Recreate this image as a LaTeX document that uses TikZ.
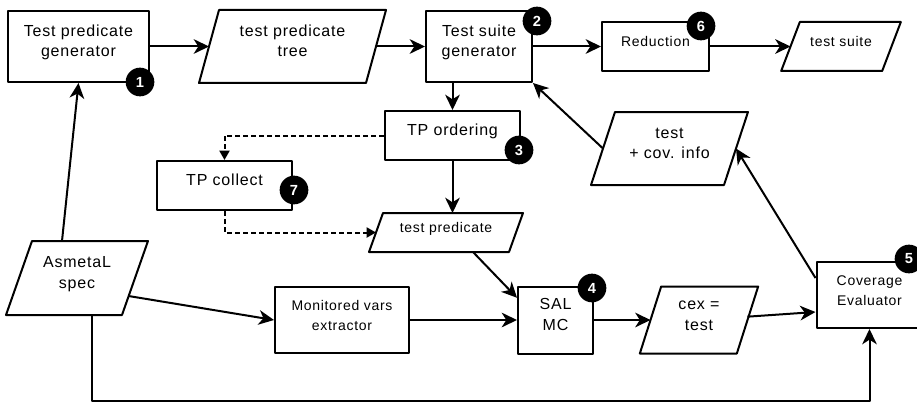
\documentclass[tikz,border=0pt]{standalone}
\usepackage{fontspec}
\setmainfont{Liberation Sans}[LetterSpace=5]
\usetikzlibrary{arrows.meta,calc}

% text block, set a little above the middle of its box
\newcommand\lines[1]{\smash{\begin{tabular}{@{}c@{}}#1\end{tabular}}}

\tikzset{
	block/.style={draw, line width=1.5pt, inner sep=2pt, font=\fontsize{12}{15.5}\selectfont},
	small/.style={font=\fontsize{10.5}{15}\selectfont},
	% parallelogram: #1 is half of the slant, the box sides go through the middle of the slanted edges
	data/.style={block, draw=none, append after command={\pgfextra{\draw[line width=1.5pt]
		([xshift=#1]\tikzlastnode.north west) -- ([xshift=#1]\tikzlastnode.north east) --
		([xshift=-#1]\tikzlastnode.south east) -- ([xshift=-#1]\tikzlastnode.south west) -- cycle;}}},
	badge/.style={circle, fill=black, inner sep=0pt, minimum size=21.5pt, text=white, font=\bfseries\fontsize{11}{12}\selectfont},
	flow/.style={line width=1.5pt, -{Stealth[length=11.5pt,width=11pt,inset=3.5pt]}},
	opt/.style={line width=1.5pt, dash pattern=on 3.5pt off 2.5pt, -{Triangle[length=7pt,width=7.5pt]}},
}

\begin{document}
\begin{tikzpicture}[x=0.75pt, y=-0.75pt, line join=round]
	\useasboundingbox (0,0) rectangle (917,403);
	\clip (0,0) rectangle (917,403);
	% processes
	\node[block, minimum width=105.75pt, minimum height=53.25pt] (tpgen) at (78.5,46.5) {\lines{Test predicate\\generator}};
	\node[block, minimum width=79.5pt, minimum height=53.25pt] (tsgen) at (479,46.5) {\lines{Test suite\\generator}};
	\node[block, small, minimum width=80.25pt, minimum height=36.75pt] (reduction) at (655.5,46.5) {\lines{Reduction}};
	\node[block, minimum width=101.25pt, minimum height=36.75pt] (tporder) at (452.5,135.5) {\lines{TP ordering}};
	\node[block, minimum width=101.25pt, minimum height=36.75pt] (tpcollect) at (224.5,185.5) {\lines{TP collect}};
	\node[block, small, minimum width=100.5pt, minimum height=49.5pt] (monitored) at (342,320) {\lines{Monitored vars\\extractor}};
	\node[block, minimum width=56.25pt, minimum height=50.25pt] (salmc) at (555.5,320) {\lines{SAL\\MC}};
	\node[block, small, minimum width=79.5pt, minimum height=49.5pt] (coverage) at (869.5,295) {\lines{Coverage\\Evaluator}};
	% data
	\node[data=7.5pt, minimum width=123.75pt, minimum height=53.25pt] (tptree) at (292.5,46.5) {\lines{test predicate\\tree}};
	\node[data=7pt, small, minimum width=74.25pt, minimum height=35.25pt] (testsuite) at (841,46.5) {\lines{test suite}};
	\node[data=9pt, minimum width=98.25pt, minimum height=53.25pt] (testcov) at (669.5,148.5) {\lines{test\\+ cov. info}};
	\node[data=5.25pt, small, minimum width=103.5pt, minimum height=27.75pt] (tppred) at (446,232.5) {\lines{test predicate}};
	\node[data=8pt, minimum width=71.25pt, minimum height=48.75pt] (cex) at (699,320) {\lines{cex =\\test}};
	\node[data=9.75pt, minimum width=85.5pt, minimum height=54pt] (asmetal) at (77,278) {\lines{AsmetaL\\spec}};
	% step numbers
	\node[badge] (b1) at (140,82) {1};
	\node[badge] (b2) at (537,21) {2};
	\node[badge] (b3) at (519,150) {3};
	\node[badge] (b4) at (592,288) {4};
	\node[badge] (b5) at (909,259) {5};
	\node[badge] (b6) at (701,26) {6};
	\node[badge] (b7) at (294,190) {7};
	% connections
	\draw[flow] (tpgen) -- (tptree);
	\draw[flow] (tptree) -- (tsgen);
	\draw[flow] (tsgen) -- (reduction);
	\draw[flow] (reduction) -- (testsuite);
	\draw[flow] (tsgen.south -| tporder.north) -- (tporder.north);
	\draw[opt] (tporder.west) -| (tpcollect.north);
	\draw[flow] (tporder.south) -- (tporder.south |- tppred.north);
	\draw[opt] (tpcollect.south) |- (tppred.west);
	\draw[flow] ($(tppred.south)+(27,0)$) -- (salmc.150);
	\draw[flow] ($(asmetal.north)+(-15,0)$) -- (tpgen.south);
	\draw[flow] ($(asmetal.east)+(-6.5,18)$) -- (monitored.west);
	\draw[flow] (monitored) -- (salmc);
	\draw[flow] (salmc) -- (cex);
	\draw[flow] (cex) -- ($(coverage.west)+(0,17)$);
	\draw[flow] ($(coverage.west)+(0,-17)$) -- (testcov.east);
	\draw[flow] (testcov.west) -- (tsgen.south east);
	\draw[flow] ($(asmetal.south)+(15,0)$) |- ($(coverage.south)+(0,72)$) -- (coverage.south);
\end{tikzpicture}
\end{document}
